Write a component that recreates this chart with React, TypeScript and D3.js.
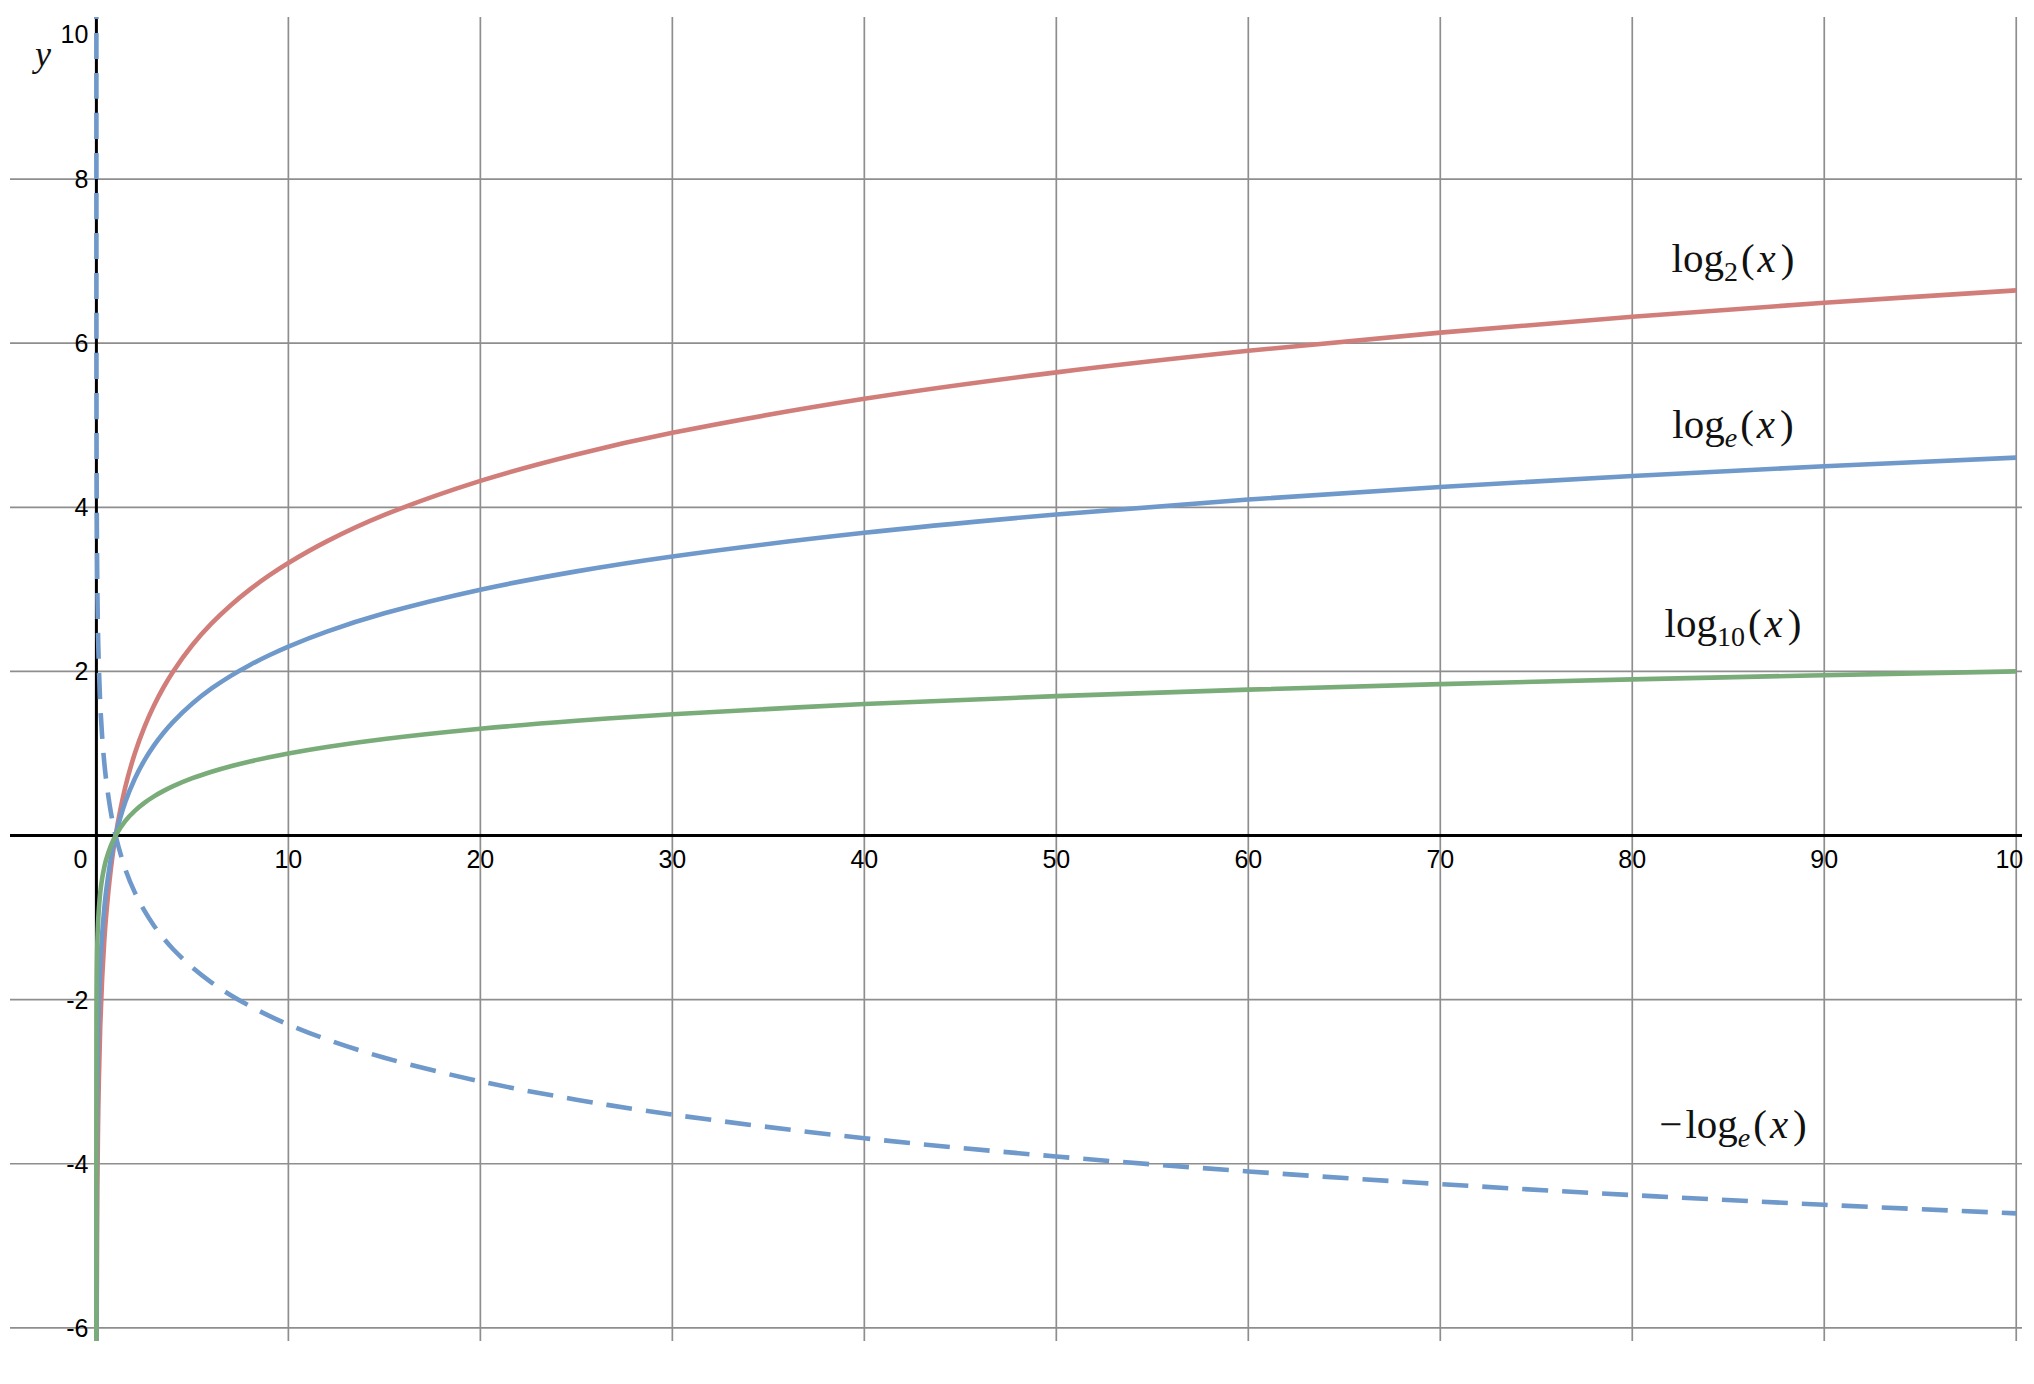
import React from "react";
import * as d3 from "d3";

const xSamples = [1e-7, 1e-6, 1e-5, 1e-4, 0.001, 0.002, 0.005, 0.01, 0.02, 0.05, 0.1, 0.2, 0.3, 0.4, 0.5, 0.75, 1, 1.5, 2, 2.5, 3, 3.5, 4, 5, 6, 7, 8, 9, 10, 12, 15, 20, 25, 30, 40, 50, 60, 70, 80, 90, 100];
const log2Values = [-23.253, -19.932, -16.61, -13.288, -9.966, -8.966, -7.644, -6.644, -5.644, -4.322, -3.322, -2.322, -1.737, -1.322, -1, -0.415, 0, 0.585, 1, 1.322, 1.585, 1.807, 2, 2.322, 2.585, 2.807, 3, 3.17, 3.322, 3.585, 3.907, 4.322, 4.644, 4.907, 5.322, 5.644, 5.907, 6.129, 6.322, 6.492, 6.644];
const lnValues = [-16.118, -13.816, -11.513, -9.21, -6.908, -6.215, -5.298, -4.605, -3.912, -2.996, -2.303, -1.609, -1.204, -0.916, -0.693, -0.288, 0, 0.405, 0.693, 0.916, 1.099, 1.253, 1.386, 1.609, 1.792, 1.946, 2.079, 2.197, 2.303, 2.485, 2.708, 2.996, 3.219, 3.401, 3.689, 3.912, 4.094, 4.248, 4.382, 4.5, 4.605];
const log10Values = [-7, -6, -5, -4, -3, -2.699, -2.301, -2, -1.699, -1.301, -1, -0.699, -0.523, -0.398, -0.301, -0.125, 0, 0.176, 0.301, 0.398, 0.477, 0.544, 0.602, 0.699, 0.778, 0.845, 0.903, 0.954, 1, 1.079, 1.176, 1.301, 1.398, 1.477, 1.602, 1.699, 1.778, 1.845, 1.903, 1.954, 2];
const negLnValues = [16.118, 13.816, 11.513, 9.21, 6.908, 6.215, 5.298, 4.605, 3.912, 2.996, 2.303, 1.609, 1.204, 0.916, 0.693, 0.288, 0, -0.405, -0.693, -0.916, -1.099, -1.253, -1.386, -1.609, -1.792, -1.946, -2.079, -2.197, -2.303, -2.485, -2.708, -2.996, -3.219, -3.401, -3.689, -3.912, -4.094, -4.248, -4.382, -4.5, -4.605];

const xTicks = [10, 20, 30, 40, 50, 60, 70, 80, 90, 100];
const yTicks = [-6, -4, -2, 2, 4, 6, 8, 10];

const RED = "#d17e7b";
const BLUE = "#6e99ca";
const GREEN = "#7aac7a";

export default function App() {
  const left = 10, right = 2022, top = 17, bottom = 1341;
  const x = d3.scaleLinear().domain([-4.5, 100.3]).range([left, right]);
  const y = d3.scaleLinear().domain([-6.16, 9.975]).range([bottom, top]);

  const mk = (vals: number[]) =>
    d3
      .line<number>()
      .x((_, i) => x(xSamples[i]))
      .y((v) => y(v))
      .curve(d3.curveCatmullRom.alpha(0.5))(vals) || "";

  const sans = "'Liberation Sans', Arial, sans-serif";
  const serif = "'Liberation Serif', 'Times New Roman', serif";
  const labelX = 1733;
  const fs = 41;

  const label = (yBase: number, sub: string, italicSub: boolean, minus = false) => (
    <text x={labelX} y={yBase} fontFamily={serif} fontSize={fs} textAnchor="middle" fill="#111">
      {minus ? <tspan>{"\u2212"}</tspan> : null}
      <tspan dx={minus ? 3 : 0}>log</tspan>
      <tspan dy={9} fontSize={28} fontStyle={italicSub ? "italic" : "normal"}>{sub}</tspan>
      <tspan dy={-9} dx={3}>(</tspan>
      <tspan dx={3} fontStyle="italic">x</tspan>
      <tspan dx={5}>)</tspan>
    </text>
  );

  return (
    <svg width={2023} height={1384} style={{ position: "absolute", left: 0, top: 0, background: "#fff" }}>
      <defs>
        <clipPath id="plot">
          <rect x={left} y={top} width={right - left} height={bottom - top} />
        </clipPath>
      </defs>
      <rect x={0} y={0} width={2023} height={1384} fill="#fff" />
      {/* grid */}
      {xTicks.map((t) => (
        <line key={"gx" + t} x1={x(t)} x2={x(t)} y1={top} y2={bottom} stroke="#8e8e8e" strokeWidth={1.7} />
      ))}
      {yTicks.filter((t) => y(t) >= top).map((t) => (
        <line key={"gy" + t} x1={left} x2={right} y1={y(t)} y2={y(t)} stroke="#8e8e8e" strokeWidth={1.7} />
      ))}
      {/* axes */}
      <line x1={left} x2={right} y1={y(0)} y2={y(0)} stroke="#000" strokeWidth={3} />
      <line x1={x(0)} x2={x(0)} y1={top} y2={bottom} stroke="#000" strokeWidth={3} />
      {/* tick labels */}
      {xTicks.map((t) => (
        <text key={"lx" + t} x={x(t)} y={y(0) + 32} fontFamily={sans} fontSize={25} textAnchor="middle" fill="#000">
          {t}
        </text>
      ))}
      <text x={x(0) - 9} y={y(0) + 32} fontFamily={sans} fontSize={25} textAnchor="end" fill="#000">0</text>
      {yTicks.map((t) => (
        <text key={"ly" + t} x={x(0) - 8} y={Math.max(y(t), top + 17)} dy="0.36em" fontFamily={sans} fontSize={25} textAnchor="end" fill="#000">
          {t}
        </text>
      ))}
      <text x={43} y={66} fontFamily={serif} fontSize={36} fontStyle="italic" textAnchor="middle" fill="#111">y</text>
      {/* curves */}
      <g clipPath="url(#plot)" fill="none" strokeWidth={4.6} strokeLinejoin="round">
        <path d={mk(log2Values)} stroke={RED} />
        <path d={mk(lnValues)} stroke={BLUE} />
        <path d={mk(negLnValues)} stroke={BLUE} strokeDasharray="26 14" />
        <path d={mk(log10Values)} stroke={GREEN} />
      </g>
      {/* labels */}
      {label(272, "2", false)}
      {label(438, "e", true)}
      {label(637, "10", false)}
      {label(1138, "e", true, true)}
    </svg>
  );
}
